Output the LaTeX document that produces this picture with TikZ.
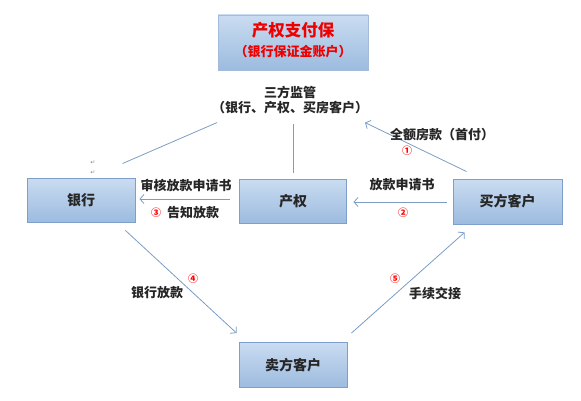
\documentclass[tikz,border=0pt]{standalone}
\usepackage{fontspec}
\setmainfont{Noto Sans CJK SC}
\newfontfamily\symfont{DejaVu Sans}
\usetikzlibrary{positioning, calc, arrows.meta}

\definecolor{boxtop}{HTML}{CADCF1}
\definecolor{boxbot}{HTML}{9CBBDF}
\definecolor{boxline}{HTML}{7D9FC9}
\definecolor{flowblue}{HTML}{7C9DC4}
\definecolor{titlered}{HTML}{EE0000}

\begin{document}
\begin{tikzpicture}[
    x=1pt, y=-1pt,
    box/.style={
        draw=boxline,
        top color=boxtop,
        bottom color=boxbot,
        line width=0.9pt,
        minimum width=\bw pt,
        minimum height=\bh pt,
        inner sep=0pt,
        font=\fontsize{14}{16}\selectfont\bfseries,
        text=black!85
    },
    flow/.style={
        -{Straight Barb[length=4pt, width=9pt]},
        draw=flowblue,
        line width=0.8pt
    },
    link/.style={
        draw=flowblue,
        line width=0.8pt
    },
    note/.style={font=\fontsize{13}{15}\selectfont\bfseries, text=black!85, inner sep=0pt},
    num/.style={font=\fontsize{10}{10}\selectfont\bfseries, text=red, inner sep=0pt}
]

% parameters
\def\bw{108}
\def\bh{44}

\useasboundingbox (0,0) rectangle (581,401);

% title box
\node[box, minimum width=150pt, minimum height=55pt, draw=boxline!70] (title) at (293,42.5) {};
\node[font=\fontsize{16.5}{18}\selectfont\bfseries, text=titlered, inner sep=0pt] (titleA) at (293,30) {产权支付保};
\node[font=\fontsize{13}{15}\selectfont\bfseries, text=titlered, inner sep=0pt] (titleB) at (293,52) {（银行保证金账户）};

% supervision text
\node[note, align=center] (sup) at (290,100.5) {三方监管\\（银行、产权、买房客户）};

% boxes
\node[box] (bank) at (81,200) {银行};
\node[box, minimum width=107pt] (cq) at (293,201) {产权};
\node[box, minimum width=109pt, minimum height=45pt] (buyer) at (507.5,201.5) {买方客户};
\node[box, minimum height=45pt] (seller) at (293,365) {卖方客户};

% stray marks
\node[font=\symfont\fontsize{6}{6}\selectfont, text=black!45, inner sep=0pt] (mkA) at (93,163) {↵};
\node[font=\symfont\fontsize{6}{6}\selectfont, text=black!45, inner sep=0pt] (mkB) at (93,173) {↵};

% connectors
\draw[link] ($(bank.north east)+(-13,-14)$) -- ($(sup.south)+(-73,8)$);
\draw[link] ($(cq.north)+(0,-6)$) -- ($(sup.south)+(3,9)$);
\draw[flow] ($(buyer.north west)+(14,-7)$) -- ($(sup.south)+(75,8)$);
\draw[flow] ($(buyer.west)+(-6,0.5)$) -- ($(cq.east)+(6.5,1)$);
\draw[flow] ($(cq.west)+(-9.5,-2)$) -- ($(bank.east)+(4,-1)$);
\draw[flow] ($(bank.south east)+(-10,8)$) -- ($(seller.north west)+(-2,-9)$);
\draw[flow] ($(seller.north east)+(4,-9)$) -- ($(buyer.south west)+(12,8)$);

% labels
\node[note] (lblA) at (442,135) {全额房款（首付）};
\node[num] (numA) at (407,151) {①};
\node[note] (lblB) at (402,185) {放款申请书};
\node[num] (numB) at (403,213) {②};
\node[note] (lblC) at (186,185) {审核放款申请书};
\node[num] (numC) at (156,213) {③};
\node[note] (lblD) at (193,213) {告知放款};
\node[num] (numD) at (193,279) {④};
\node[note] (lblE) at (157,293) {银行放款};
\node[num] (numE) at (395,279) {⑤};
\node[note] (lblF) at (435,293) {手续交接};

\end{tikzpicture}
\end{document}
